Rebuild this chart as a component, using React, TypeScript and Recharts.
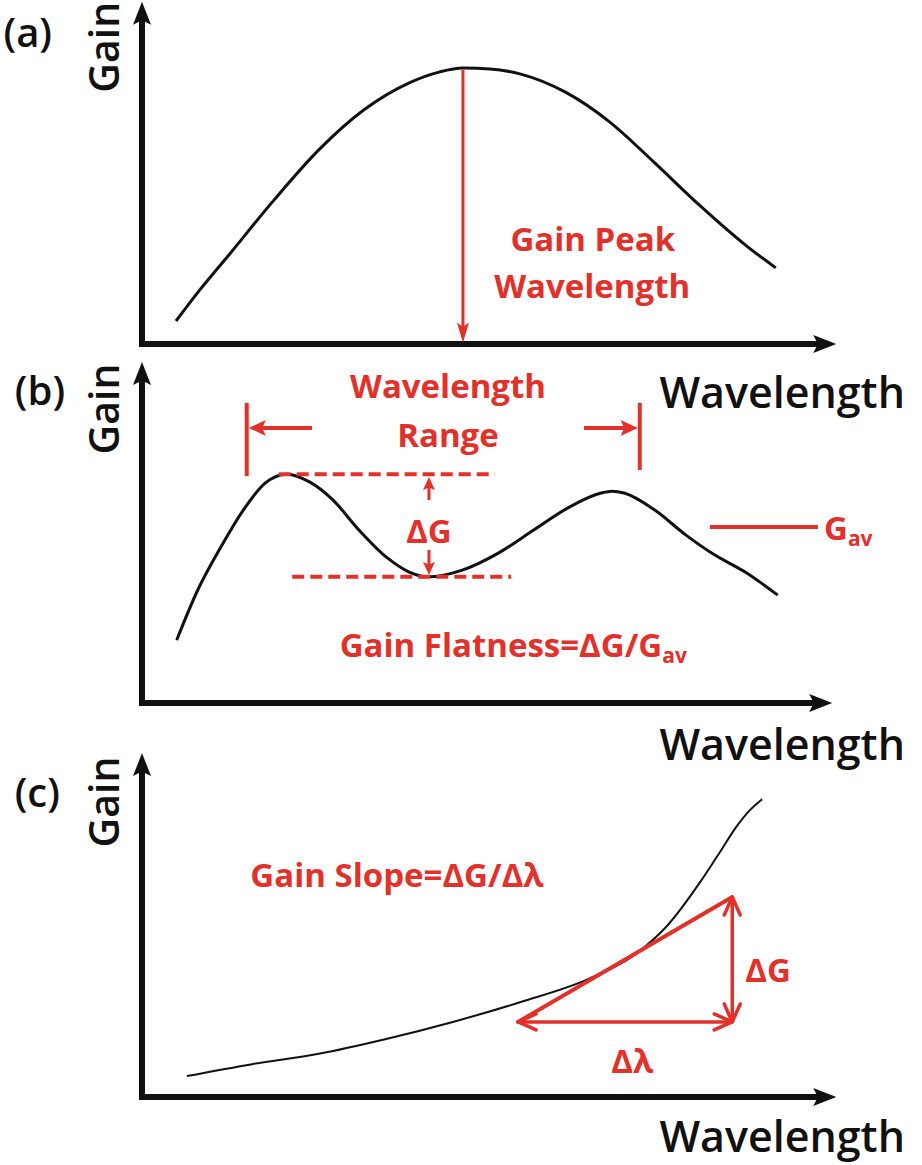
import { LineChart, Line, XAxis, YAxis, ReferenceLine, ReferenceDot } from "recharts";

// All curves live on a 0–100 wavelength / 0–100 gain grid.

// (a) single gain peak
const waveA = [5.0, 8.5, 12.9, 19.4, 26.0, 32.6, 39.3, 43.8, 47.2, 51.2, 55.7, 62.2, 68.8, 75.4, 82.1, 88.7, 93.2];
const gainA = [7.1, 16.7, 27.8, 44.4, 59.9, 72.2, 80.6, 84.0, 85.2, 84.9, 83.3, 77.8, 68.5, 55.9, 42.6, 30.6, 23.5];

// (b) two-hump spectrum
const waveB = [5.1, 8.2, 11.6, 14.9, 18.1, 21.3, 24.7, 28.1, 31.9, 35.9, 39.3, 42.2, 47.1, 52.4, 57.6, 62.9, 67.5, 69.1, 70.9, 75.4, 80.0, 84.0, 88.7, 93.5];
const gainB = [19.6, 35.2, 48.6, 60.1, 68.5, 71.3, 68.8, 63.2, 53.9, 45.5, 40.8, 39.3, 41.4, 46.7, 53.9, 61.1, 65.4, 66.0, 65.4, 60.1, 52.3, 46.4, 40.8, 33.6];

// (c) rising tilt
const waveC = [6.6, 16.2, 26.0, 35.9, 45.7, 55.7, 65.6, 72.2, 77.2, 82.1, 85.0, 87.5, 89.4, 91.2];
const gainC = [6.5, 10.2, 13.4, 18.0, 23.3, 29.5, 36.6, 43.8, 53.1, 66.8, 76.1, 84.2, 89.1, 92.5];

// annotation anchors
const peakA = { w: 47.2, g: 84.6 };
const rangeB = [15.4, 73.2]; // wavelength range edges
const maxB = { w0: 20.1, w1: 51.9, g: 71.3 };
const minB = { w0: 22.1, w1: 54.3, g: 39.3 };
const gavB = 54.8;
const slopeC = { w0: 55.3, g0: 23.3, w1: 86.8, g1: 62.1 };

const zip = (w: number[], g: number[]) => w.map((x, i) => ({ w: x, g: g[i] }));

const RED = "#e2312b";
const INK = "#111111";
const FONT = "'Open Sans', 'Noto Sans', sans-serif";
const W = 922;

type ArrowOpts = {
  color: string;
  width: number;
  len: number;
  half: number;
  both?: boolean;
  open?: boolean;
  cap?: "butt" | "square" | "round";
};

function arrowShape(o: ArrowOpts) {
  return (p: any) => {
    const { x1, y1, x2, y2 } = p;
    const ang = Math.atan2(y2 - y1, x2 - x1);
    const c = Math.cos(ang);
    const s = Math.sin(ang);
    const head = (x: number, y: number, dir: number) => {
      const cc = c * dir;
      const ss = s * dir;
      const bx = x - o.len * cc;
      const by = y - o.len * ss;
      if (o.open) {
        return (
          <polyline
            points={`${bx - o.half * ss},${by + o.half * cc} ${x},${y} ${bx + o.half * ss},${by - o.half * cc}`}
            fill="none"
            stroke={o.color}
            strokeWidth={o.width}
            strokeLinejoin="round"
            strokeLinecap="round"
          />
        );
      }
      const ix = x - o.len * 0.8 * cc;
      const iy = y - o.len * 0.8 * ss;
      return (
        <polygon
          points={`${x},${y} ${bx - o.half * ss},${by + o.half * cc} ${ix},${iy} ${bx + o.half * ss},${by - o.half * cc}`}
          fill={o.color}
        />
      );
    };
    const pull = o.open ? 0 : o.len * 0.7;
    const sx = o.both ? x1 + pull * c : x1;
    const sy = o.both ? y1 + pull * s : y1;
    return (
      <g>
        <line
          x1={sx}
          y1={sy}
          x2={x2 - pull * c}
          y2={y2 - pull * s}
          stroke={o.color}
          strokeWidth={o.width}
          strokeLinecap={o.cap ?? "butt"}
        />
        {head(x2, y2, 1)}
        {o.both && head(x1, y1, -1)}
      </g>
    );
  };
}

const axisArrow = arrowShape({ color: INK, width: 6, len: 23, half: 9, cap: "square" });
const peakArrow = arrowShape({ color: RED, width: 3, len: 20, half: 6 });
const rangeArrow = arrowShape({ color: RED, width: 4, len: 17, half: 8 });
const tinyArrow = arrowShape({ color: RED, width: 3, len: 13, half: 6 });
const openDouble = arrowShape({ color: RED, width: 3.5, len: 18, half: 8, both: true, open: true });

type NoteOpts = {
  size: number;
  color?: string;
  anchor?: "start" | "middle" | "end";
  weight?: number;
  rotate?: boolean;
};

function note(key: string, x: number, y: number, content: any, o: NoteOpts) {
  return (
    <ReferenceDot
      key={key}
      x={x}
      y={y}
      r={0}
      ifOverflow="visible"
      shape={(p: any) => (
        <text
          x={p.cx}
          y={p.cy}
          fill={o.color ?? INK}
          fontSize={o.size}
          fontWeight={o.weight ?? 600}
          fontFamily={FONT}
          textAnchor={o.anchor ?? "middle"}
          transform={o.rotate ? `rotate(-90 ${p.cx} ${p.cy})` : undefined}
        >
          {content}
        </text>
      )}
    />
  );
}

function seg(key: string, a: [number, number], b: [number, number], props: any) {
  return (
    <ReferenceLine
      key={key}
      segment={[
        { x: a[0], y: a[1] },
        { x: b[0], y: b[1] },
      ]}
      ifOverflow="visible"
      {...props}
    />
  );
}

// shared frame: axes with arrowheads plus the panel tag and axis labels
function frame(tag: string, xTip: number, yTip: number, tagPos: [number, number], wlY: number) {
  return [
    seg("xa", [0, 0], [xTip, 0], { shape: axisArrow }),
    seg("ya", [0, 0], [0, yTip], { shape: axisArrow }),
    note("tag", tagPos[0], tagPos[1], tag, { size: 40, weight: 600 }),
    note("gain", -3.4, 91.6, "Gain", { size: 41, rotate: true }),
    note("wl", 112.2, wlY, "Wavelength", { size: 43, anchor: "end" }),
  ];
}

const Sub = ({ children }: { children: string }) => (
  <tspan fontSize={21} dy={6}>
    {children}
  </tspan>
);

const axes = [
  <XAxis key="x" type="number" dataKey="w" domain={[0, 100]} hide />,
  <YAxis key="y" type="number" domain={[0, 100]} hide />,
];

export default function App() {
  const redTxt = { size: 33, color: RED, weight: 700 };
  return (
    <div style={{ position: "absolute", left: 0, top: 0, width: W, height: 1165, background: "#fff" }}>
      {/* (a) */}
      <div style={{ position: "absolute", left: 0, top: 0 }}>
        <LineChart width={W} height={420} data={zip(waveA, gainA)} margin={{ top: 20, right: 100, bottom: 76, left: 142 }}>
          {axes}
          {frame("(a)", 102.1, 105.6, [-16.8, 91.7], -19.8)}
          <Line dataKey="g" type="monotone" stroke={INK} strokeWidth={3} dot={false} isAnimationActive={false} />
          {seg("peak", [peakA.w, peakA.g], [peakA.w, 0.4], { shape: peakArrow })}
          {note("gp1", 66.3, 28.7, "Gain Peak", redTxt)}
          {note("gp2", 66.2, 14.2, "Wavelength", redTxt)}
        </LineChart>
      </div>

      {/* (b) */}
      <div style={{ position: "absolute", left: 0, top: 345 }}>
        <LineChart width={W} height={430} data={zip(waveB, gainB)} margin={{ top: 37, right: 100, bottom: 72, left: 142 }}>
          {axes}
          {frame("(b)", 101.5, 106.2, [-15.0, 92.8], -17.8)}
          <Line dataKey="g" type="monotone" stroke={INK} strokeWidth={3} dot={false} isAnimationActive={false} />
          {seg("rb0", [rangeB[0], 93.5], [rangeB[0], 70.7], { stroke: RED, strokeWidth: 4 })}
          {seg("rb1", [rangeB[1], 93.5], [rangeB[1], 72.6], { stroke: RED, strokeWidth: 4 })}
          {seg("ra0", [25.0, 85.7], [rangeB[0] + 0.3, 85.7], { shape: rangeArrow })}
          {seg("ra1", [65.0, 85.7], [rangeB[1] - 0.3, 85.7], { shape: rangeArrow })}
          {seg("dmax", [maxB.w0, maxB.g], [maxB.w1, maxB.g], { stroke: RED, strokeWidth: 4, strokeDasharray: "12 6" })}
          {seg("dmin", [minB.w0, minB.g], [minB.w1, minB.g], { stroke: RED, strokeWidth: 4, strokeDasharray: "12 6" })}
          {seg("up", [42.2, 63.2], [42.2, maxB.g - 0.9], { shape: tinyArrow })}
          {seg("dn", [42.2, 47.7], [42.2, minB.g + 0.6], { shape: tinyArrow })}
          {seg("gav", [83.5, gavB], [99.4, gavB], { stroke: RED, strokeWidth: 4 })}
          {note("wr1", 45.0, 95.0, "Wavelength", redTxt)}
          {note("wr2", 45.0, 79.8, "Range", redTxt)}
          {note("dg", 42.2, 49.8, "ΔG", redTxt)}
          {note("gavt", 100.3, 50.8, <>G<Sub>av</Sub></>, { ...redTxt, anchor: "start" })}
          {note("flat", 54.6, 14.3, <>Gain Flatness=ΔG/G<Sub>av</Sub></>, redTxt)}
        </LineChart>
      </div>

      {/* (c) */}
      <div style={{ position: "absolute", left: 0, top: 725 }}>
        <LineChart width={W} height={440} data={zip(waveC, gainC)} margin={{ top: 50, right: 100, bottom: 68, left: 142 }}>
          {axes}
          {frame("(c)", 102.1, 106.8, [-15.4, 90.1], -17.1)}
          <Line dataKey="g" type="monotone" stroke={INK} strokeWidth={2} dot={false} isAnimationActive={false} />
          {seg("hyp", [slopeC.w0, slopeC.g0], [slopeC.w1, slopeC.g1], { stroke: RED, strokeWidth: 4, strokeLinecap: "round" })}
          {seg("dl", [slopeC.w0, slopeC.g0], [slopeC.w1, slopeC.g0], { shape: openDouble })}
          {seg("dgc", [slopeC.w1, slopeC.g0], [slopeC.w1, slopeC.g1], { shape: openDouble })}
          {note("slope", 37.5, 65.2, "Gain Slope=ΔG/Δλ", redTxt)}
          {note("dgt", 88.7, 35.7, "ΔG", { ...redTxt, anchor: "start" })}
          {note("dlt", 72.1, 7.5, "Δλ", redTxt)}
        </LineChart>
      </div>
    </div>
  );
}
